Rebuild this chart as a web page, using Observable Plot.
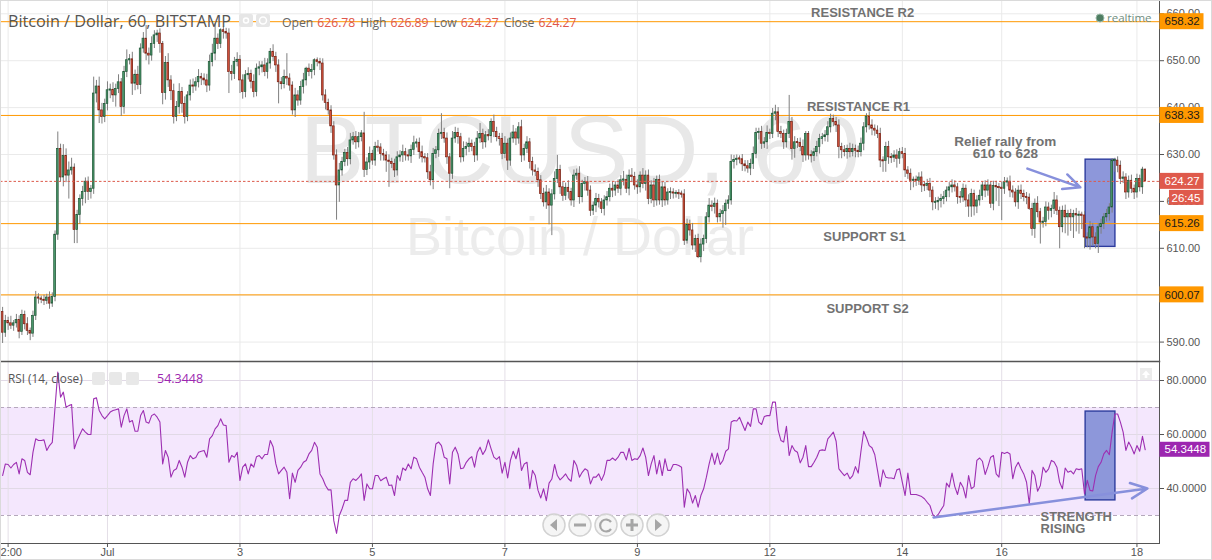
<!DOCTYPE html>
<html><head><meta charset="utf-8">
<script src="https://cdn.jsdelivr.net/npm/d3@7"></script>
<script src="https://cdn.jsdelivr.net/npm/@observablehq/plot@0.6"></script>
<style>
html,body{margin:0;padding:0;background:#fff;}
#wrap{position:relative;width:1212px;height:560px;overflow:hidden;background:#fff;}
#top,#bot{position:absolute;left:0;}
#top{top:0;}
#bot{top:361px;}
</style></head>
<body><div id="wrap"><div id="top"></div><div id="bot"></div></div>
<script>
// ---------------- DATA ----------------
const titleText = "Bitcoin / Dollar, 60, BITSTAMP";
const ohlcLabels = ["Open", "High", "Low", "Close"];
const ohlcValues = [626.78, 626.89, 624.27, 624.27];
const rsiTitle = "RSI (14, close)";
const watermark = "BTCUSD, 60";
const watermarkSub = "Bitcoin / Dollar";
const countdown = "26:45";

const tickIdx = [2, 38, 86, 134, 182, 230, 278, 326, 362, 411];
const tickLabels = ["2:00", "Jul", "3", "5", "7", "9", "12", "14", "16", "18"];
const priceGrid = [590, 600, 610, 620, 630, 640, 650, 660];
const priceLabels = [590, 610, 620, 630, 640, 650, 660];
const rsiTicks = [40, 60, 80];
const rsiBand = [30, 70];

const levelNames = ["RESISTANCE R2", "RESISTANCE R1", "SUPPORT S1", "SUPPORT S2"];
const levelValues = [658.32, 638.33, 615.26, 600.07];
const levelLabelX = [311.6, 310.1, 312.3, 313.4];

const lastPrice = 624.27;
const lastRsi = 54.3448;

const rally = {x1: 392.4, x2: 403.2, p1: 610.3, p2: 628.9, r1: 35.6, r2: 68.5};
const rallyArrow = {x1: 371.3, p1: 627.0, x2: 390.5, p2: 623.0};
const rsiArrow = {x1: 337.3, v1: 29.3, x2: 414.8, v2: 40.0};
const reliefNote = {x: 363.3, p: 631.4, text: "Relief rally from\n610 to 628"};
const strengthNote = {x: 376.05, v: 27.15, text: "STRENGTH\nRISING"};

const firstOpen = 596.4;
const close = [
592,594.5,594,593.5,594,594.7,592.2,595.8,593.8,592.4,
591.8,595.6,599.5,599.3,599,598.8,599.5,598.2,599.6,612.9,
631.2,625.1,629.7,625.5,626.6,627.2,613.9,617.1,620.5,622,
624.2,622,622.7,643,644.5,639.4,638,640.8,643.7,643.8,
642.6,644,645.4,640.1,647.6,650.1,650.3,645.1,647,644.8,
652.6,654.7,651.5,651.1,653.6,655.4,655.8,653.6,643.1,649.5,
645.8,643.5,638,640.1,643.3,640.8,638,642.6,644.7,644.5,
645.4,646.5,646.2,645.8,644.7,649.7,651.5,654.7,653.6,656.5,
656.1,655.8,647.6,647.2,649.7,650.2,645.8,643.3,646.9,647.2,
645.5,643.3,648.3,648.6,649,647.6,649.4,651.9,650.8,649,
645.4,645,646.5,646.2,644.7,639.4,642.6,641.5,644.4,645.8,
648.3,647.6,648,650.1,649.7,649.4,642.6,641,639.4,636,
629.8,623.4,626.6,628.4,630.3,629,633,633.7,632.6,633.7,
634.5,626.7,628.3,630.1,628.7,631.6,631.5,630.1,629.8,628.7,
628.4,628,626.6,629.4,629.8,630.5,629.8,629.6,631,632.4,
632.5,630.5,629.4,629.2,626.2,624.5,630.1,630.9,634.4,634.6,
633.4,629.4,625.9,633.4,634.6,633.7,629.4,631.2,631.6,632.3,
631.6,629.8,633.4,634.4,632.6,634.1,633.9,636.9,634.8,633.7,
633.3,630.1,632.3,628.7,633.4,634.7,633.4,635.8,629.8,631.2,
632.6,628.4,626.6,626.3,624.5,621.6,619.8,621.9,619.1,621.5,
624.8,626.7,623,621.2,622.9,622,620.2,625.5,625.9,620.9,
623.7,624.1,622.3,618,619.1,620.5,619.8,618.4,620.2,620.9,
622.7,622.3,623.4,622.7,624.5,624.6,622.7,625.5,625.2,623.4,
623,625.5,623.7,625.5,620.5,623.4,620.2,624.6,620.2,623,
620.2,621.9,621.9,621.7,621.7,621.6,621.5,611.6,615,613.8,
610.6,612,608.1,610.8,612,616.6,619.1,618.8,619.5,616.6,
617.3,617.9,619.5,620.2,628.4,628.8,629.1,629,627.9,627.5,
627,628,630.1,634.6,634.8,632.3,632.6,634.6,634.4,638.7,
639,634.8,634.4,632.6,634.4,636.9,631.2,632.6,632.5,631.6,
629.8,634.4,629.8,629.7,630.5,631.6,633.3,633.7,634.1,635.8,
637.6,636.9,636.2,631.6,630.9,630.5,631.2,630.5,631.2,630.8,
630.5,632.3,635.8,638.1,636.2,635.5,635.1,634.4,628.7,628.6,
631.6,629.4,629.3,629.8,629.1,630.5,630.1,626.6,625.9,624.4,
624.6,624.4,625.1,623.4,623.3,623.7,622.3,619.8,619.8,620.1,
620.5,620.9,622.3,623,623.4,623,620.9,620.8,622.7,620.2,
618.9,621.6,618.9,620.2,621.2,623.4,622.3,623.4,619.5,623.3,
623,622.9,622.7,624.1,624.2,622.3,621.9,619.8,622.3,621.6,
620.9,620.8,618.4,614.1,619.5,617.7,615.5,615.6,618.7,618,
618.4,620.2,618,614.5,618,616.6,617.3,616.6,617.3,617,
617.1,617,612.3,612.1,614.5,612.3,610.9,614.5,615.2,616.6,
617.3,618.7,628.7,628.7,627.6,624.8,625.1,621.9,624.4,622.7,
621.9,624.8,623,626.78,624.27
];
const wickUp = [
1.0,1.2,0.8,1.5,0.6,1.2,0.9,1.0,0.8,1.4,0.6,1.0,1.3,0.8,0.5,1.0,0.7,1.2,0.9,0.8,
3.6,1.0,2.4,1.5,1.8,2.0,0.8,1.0,0.9,1.2,0.8,1.0,0.7,3.5,1.3,2.0,1.5,1.0,1.8,1.2,
1.5,1.0,1.6,0.8,1.2,2.2,1.0,1.5,1.0,1.8,1.0,1.3,2.8,1.2,1.5,1.0,0.7,1.0,0.5,1.4,
2.0,1.0,1.5,1.2,1.8,1.0,1.5,0.8,1.2,1.4,1.0,1.6,0.8,1.0,1.3,1.5,2.0,3.2,1.0,0.3,
0.7,0.8,1.0,1.4,1.0,1.5,0.9,1.2,1.0,1.3,0.8,1.5,1.0,1.2,0.8,1.5,1.0,0.7,1.5,1.0,
1.2,1.0,1.5,5.0,1.0,0.8,1.5,1.0,1.2,1.5,0.3,1.0,1.2,0.3,0.5,0.8,1.0,1.2,0.8,1.0,
1.0,1.2,1.5,1.0,0.8,1.2,1.5,1.0,1.2,1.0,0.6,4.5,1.0,1.5,0.8,1.0,1.4,0.8,1.0,0.8,
1.2,0.8,1.0,1.2,1.0,1.5,0.8,1.2,1.0,1.5,0.8,1.0,1.3,0.8,1.0,1.5,1.2,0.8,1.0,4.1,
1.0,1.2,0.8,1.5,1.2,1.0,0.8,1.5,1.0,1.2,0.8,1.0,1.5,2.2,1.0,0.8,1.2,0.7,1.5,1.0,
0.8,1.2,1.5,1.0,1.2,1.5,0.8,1.0,1.5,1.0,1.2,0.8,1.0,1.2,0.8,1.0,1.2,1.5,0.8,1.0,
1.5,3.1,1.0,1.2,1.0,1.5,0.8,1.2,1.0,1.5,0.8,1.0,1.2,1.0,0.8,1.2,1.0,0.8,1.0,1.2,
1.0,1.5,0.8,1.2,1.0,1.8,1.0,1.2,1.5,1.0,1.2,0.8,1.5,1.0,1.2,1.0,1.5,0.8,1.0,1.2,
1.0,0.8,1.0,0.8,0.6,0.8,0.6,1.0,1.2,1.0,1.5,0.8,1.0,1.2,0.8,1.0,1.5,1.0,1.2,0.8,
1.0,1.2,0.8,1.0,1.5,1.0,0.8,0.6,1.0,0.8,1.2,1.0,1.5,1.0,0.8,1.2,1.0,1.5,0.8,1.1,
1.5,1.0,1.2,0.8,1.0,5.7,1.0,1.2,0.8,1.0,1.5,0.5,0.5,1.0,0.8,1.2,1.0,0.8,1.0,1.2,
1.0,0.8,1.0,1.2,0.8,1.0,0.8,1.2,1.0,0.8,1.0,1.2,1.0,0.6,1.0,1.2,0.8,1.0,1.2,0.8,
1.0,1.2,0.8,1.0,1.2,0.8,1.0,1.2,0.8,1.0,0.6,0.8,1.0,1.2,0.8,1.0,1.2,0.8,1.0,0.8,
1.0,1.2,0.8,1.0,1.2,1.0,0.8,1.2,1.0,0.8,1.2,1.0,0.8,1.0,1.2,0.8,1.0,1.2,0.8,1.0,
1.0,0.8,1.2,1.0,0.8,1.2,1.0,0.8,1.0,1.2,0.8,1.0,0.8,1.2,1.0,1.5,0.8,1.0,1.2,1.0,
0.8,1.7,1.0,0.8,1.0,1.2,0.8,1.0,0.8,1.2,0.8,0.6,0.8,1.0,1.2,0.8,1.0,0.8,1.0,0.8,
1.0,0.8,0.4,0.5,0.8,1.0,1.2,0.8,1.0,1.2,0.8,1.0,0.8,0.5,0.11
];
const wickDn = [
2.3,1.0,1.5,0.8,1.2,1.0,1.5,0.8,1.2,1.0,1.5,0.8,1.0,1.2,0.8,1.0,0.8,1.2,0.8,1.0,
1.2,1.0,2.0,1.5,5.0,1.0,2.9,2.9,2.0,1.5,2.5,1.8,1.5,1.2,2.0,2.8,1.5,1.2,1.5,1.8,
1.5,2.5,1.0,2.0,1.5,1.2,1.0,2.5,1.5,1.0,2.0,1.0,1.5,2.0,1.2,1.0,1.5,2.0,2.5,1.5,
1.5,2.0,1.5,1.0,1.5,2.0,1.5,1.0,1.2,1.5,1.0,1.2,1.5,1.0,1.5,1.2,1.0,1.5,1.2,1.0,
1.5,1.2,4.6,1.5,1.2,1.0,2.8,1.5,1.2,1.0,1.5,1.2,1.0,1.5,1.2,1.0,1.5,1.2,1.0,1.5,
4.6,1.2,1.0,1.5,1.2,1.0,1.5,1.2,1.0,1.5,1.2,1.0,1.5,1.2,1.0,1.5,1.2,1.5,1.0,1.5,
1.0,7.4,3.6,1.2,1.0,1.5,1.2,1.0,1.5,1.2,1.0,1.6,1.2,1.5,1.0,1.2,1.0,1.5,1.2,2.5,
5.4,1.0,1.5,1.2,1.0,1.5,1.2,1.0,1.5,1.2,1.0,1.5,1.2,1.0,1.5,1.2,2.0,1.0,1.5,1.2,
1.0,1.5,3.2,1.2,1.0,1.5,1.2,1.0,1.5,1.2,1.0,1.5,1.2,1.0,1.5,1.2,1.0,1.5,1.2,1.0,
1.5,1.2,1.0,2.1,1.2,1.0,1.5,1.2,1.5,1.2,1.0,1.5,1.2,1.0,1.5,1.2,1.0,1.5,4.1,6.4,
1.2,1.0,1.5,1.2,1.0,1.5,1.2,1.5,1.0,1.5,1.2,1.5,1.2,1.2,1.0,1.5,1.2,1.0,1.5,1.2,
1.0,1.5,1.2,1.0,1.5,1.2,1.0,1.5,1.2,1.0,1.5,1.2,1.0,1.5,1.2,1.0,1.5,1.2,1.0,1.5,
1.2,1.0,1.5,1.2,1.0,1.2,0.8,1.0,0.7,1.2,1.0,1.5,0.3,1.2,1.5,1.0,1.2,1.0,1.5,1.2,
1.0,3.0,3.0,1.2,1.0,1.5,1.2,1.0,1.5,1.2,1.0,1.5,1.2,1.0,1.5,1.2,1.0,1.5,1.2,1.0,
1.5,1.2,1.0,1.5,1.2,1.0,2.4,2.0,1.2,1.0,1.5,1.2,1.0,1.5,1.2,1.0,1.5,1.2,1.0,1.5,
1.2,1.0,1.5,2.5,1.8,1.0,1.5,1.2,1.0,1.5,1.2,1.0,1.5,1.2,1.0,1.5,1.2,1.0,1.5,2.4,
2.4,1.5,1.2,1.0,2.0,1.2,1.0,1.5,1.2,2.1,1.5,1.2,1.0,1.5,1.2,1.0,1.5,1.8,1.5,1.8,
1.5,1.2,1.0,1.5,1.2,1.0,1.5,1.2,1.0,1.5,2.3,2.3,2.0,1.5,1.2,1.0,1.5,1.2,1.0,1.5,
3.0,4.0,6.8,1.2,1.0,1.5,1.2,1.0,1.5,1.2,1.0,1.5,0.3,1.5,2.0,1.2,4.6,1.2,1.0,2.0,
1.5,1.2,1.0,4.6,1.2,3.5,4.0,3.0,4.5,3.5,4.0,3.0,2.4,2.0,2.5,1.8,1.0,2.0,1.5,1.2,
1.0,1.5,1.2,2.5,1.5,1.2,1.0,1.5,1.2,1.0,1.5,1.2,1.0,1.5,0
];
const rsi = [
44.8,49.1,48.9,47.6,48.9,49.7,45.4,51,50.4,46,
45.1,53.4,58.4,57.8,57.8,58,54.1,55.9,57.1,70.1,
83.1,73.8,75.7,70.1,70.7,71.1,54.7,57.8,60,62.1,
60.9,60,60,73.2,73.6,68.9,67,65.8,67,68.3,
68.9,69.2,69.5,62.7,67,69.5,64.6,65.2,61.2,61.2,
67,68.9,64.6,64.2,67,67.6,66.4,64.6,49.1,54.1,
51.6,44.2,46.7,47.3,50.4,47.9,44.2,49.7,52.2,51,
51.5,53.4,53.8,54.1,51.6,58.4,59.6,62.1,63.3,65.8,
63.5,63.3,49.7,52.2,51.6,53.4,43,47.9,49.1,45.4,
49.1,47.9,51.8,52.2,51,52.6,52.6,57.8,55.5,49.1,
45.4,46.7,47.9,46,36.2,45.7,42.3,46.7,47.9,49.7,
50.4,52.8,54.1,57.1,55.3,45.4,43.6,41.1,39.5,39.5,
28.1,23.4,30,32.5,35.6,35.6,42.3,43.6,43,44,
45.4,35.6,41.7,39.9,39.9,44.8,44.8,42.9,43.6,44.2,
41.1,41.3,37.4,44.8,43,47.6,46.7,49.1,47.3,51.6,
51,47.9,46,44.2,39.9,37.4,49.1,56.5,57.2,55.9,
51.6,51,41.7,53.4,55.3,52.8,47.3,47.6,49.7,51,
51.8,47.9,53.4,55.3,52.6,54.3,58,54.7,51.6,50.8,
51.8,45.7,49.7,43.9,50.4,53.8,51,55,46.7,49.1,
49.7,39.9,46.7,44.8,39.3,36.5,39.9,35.5,42,43.5,
48.9,44.8,43.2,44.2,45.4,43.6,42.7,50.4,48.5,44.2,
46,47.3,46.7,41.7,44.2,44.2,45.4,43,45.4,50.4,
50.4,51.3,50.4,51.6,53.4,53.4,50.6,54.9,50.4,51,
50.8,52.2,55,51.6,44.8,49.1,52.2,45.4,50.4,44.8,
51,46.7,46.7,48.9,48.9,48.5,47.9,33.1,39.9,38.3,
34.6,37.4,33.1,37.4,39.9,44.2,49.1,53.1,48.9,53.1,
48.9,50.4,53.8,54.7,64.6,65.2,65,66.4,63.9,61.5,
64.6,63,69.5,69.5,64.6,63.7,66.7,67,67,72,
72,61.5,57.8,57.2,63,52.2,55.9,54.1,53.4,49.5,
51.6,55.9,48.1,48.1,49.7,51.6,54.1,54.3,54.1,58.4,
59.6,60.9,57.5,47.3,46,44.8,45.7,43.6,44.8,48.1,
45.7,53.8,61.2,58.8,55.9,55.1,52.6,46.7,40.7,46.9,
44.2,43.9,43.9,43.6,46.9,47.3,42.3,37.4,45.7,37.8,
37.8,37.8,37.4,37,36.2,34.9,33.7,30.4,29.4,30.4,
32.1,33.7,42,40.5,45.7,40.7,37.8,42.3,40.5,36.5,
44.8,39.9,40.7,50.4,51.3,50.1,45.2,48.1,51.6,52.2,
45.4,44.2,53.4,53,53.4,52.8,43.6,47.9,49.7,47.3,
45.4,42.3,34.3,46.7,44.8,39,41.1,47.9,46,47.3,
50.4,49.8,47.9,42.3,39.9,47.6,46,46.5,45.4,47.3,
47,47.3,38,43,39.3,39.1,44.8,48.1,49.7,52.8,
54.1,52.5,60.9,67.6,67.6,64.6,60.9,54.1,57.2,55.3,
52.8,55.9,53.8,59.3,54.3448
];

// ---------------- DERIVED TABLES ----------------
const candles = close.map((c, i) => {
  const o = i === 0 ? firstOpen : close[i - 1];
  let hi = Math.max(o, c), lo = Math.min(o, c);
  const high = hi + (wickUp[i] ?? 1), low = lo - (wickDn[i] ?? 1);
  if (hi - lo < 0.25) { const m = (hi + lo) / 2; hi = m + 0.13; lo = m - 0.13; }
  return {i, o, c, hi, lo, high, low, up: c >= o};
});
const levels = levelNames.map((name, k) => ({name, v: levelValues[k], x: levelLabelX[k]}));
const resist = levels.filter(d => d.name.startsWith("RES"));
const supp = levels.filter(d => d.name.startsWith("SUP"));
const rsiPts = rsi.map((v, i) => ({i, v}));
const firstTick = [{i: tickIdx[0], t: tickLabels[0]}];

// ---------------- LAYOUT ----------------
const W = 1212, MR = 53;
const xDom = [-0.761, 419.17];
const fontUI = "'Liberation Sans', Arial, sans-serif";
const annFill = "#727272";
const boxFill = "#8d97da", boxStroke = "#2d3c9e", arrowCol = "#8790dc";

const topChart = Plot.plot({
  width: W, height: 361,
  marginLeft: 0, marginRight: MR, marginTop: 0, marginBottom: 0,
  x: {domain: xDom, axis: null},
  y: {domain: [585.86, 662.84]},
  style: {fontFamily: fontUI, fontSize: "11px", color: "#555", background: "transparent", overflow: "visible"},
  marks: [
    Plot.ruleY(priceGrid, {stroke: "#eaeaea"}),
    Plot.ruleX(tickIdx, {stroke: "#eaeaea"}),
    Plot.text([watermark], {frameAnchor: "middle", fontSize: 97, fill: "#e8e8e8", dy: -29.5}),
    Plot.text([watermarkSub], {frameAnchor: "middle", fontSize: 54, fill: "#ececec", dy: 57.2}),
    Plot.rect([rally], {x1: "x1", x2: "x2", y1: "p1", y2: "p2", fill: boxFill, stroke: boxStroke, strokeWidth: 1.4}),
    Plot.ruleY(levelValues, {stroke: "#ff9800", strokeWidth: 1}),
    Plot.ruleX(candles, {x: "i", y1: "low", y2: "high", stroke: "#7f7f7f", strokeWidth: 1}),
    Plot.rect(candles.filter(d => d.up), {x1: d => d.i - 0.3, x2: d => d.i + 0.3, y1: "lo", y2: "hi", fill: "#4c9c6e", stroke: "#1d5434", strokeWidth: 0.7}),
    Plot.rect(candles.filter(d => !d.up), {x1: d => d.i - 0.3, x2: d => d.i + 0.3, y1: "lo", y2: "hi", fill: "#d8563f", stroke: "#792114", strokeWidth: 0.7}),
    Plot.ruleY([lastPrice], {stroke: "#dc5a4b", strokeDasharray: "2.5,2"}),
    Plot.arrow([rallyArrow], {x1: "x1", y1: "p1", x2: "x2", y2: "p2", stroke: arrowCol, strokeWidth: 2.5, headLength: 11, headAngle: 50}),
    Plot.text(resist, {x: "x", y: "v", text: "name", dy: -8.7, fontSize: 13, fontWeight: "bold", fill: annFill}),
    Plot.text(supp, {x: "x", y: "v", text: "name", dy: 13.5, fontSize: 13, fontWeight: "bold", fill: annFill}),
    Plot.text([reliefNote], {x: "x", y: "p", text: "text", fontSize: 13.5, fontWeight: "bold", fill: annFill, lineHeight: 0.89}),
    Plot.axisY({anchor: "right", ticks: priceLabels, tickFormat: d => d.toFixed(2), tickSize: 4, tickPadding: 3, fontSize: 11}),
    Plot.frame({anchor: "right", stroke: "#555"})
  ]
});
document.getElementById("top").appendChild(topChart);

const botChart = Plot.plot({
  width: W, height: 199,
  marginLeft: 0, marginRight: MR, marginTop: 0, marginBottom: 17,
  x: {domain: xDom},
  y: {domain: [19.63, 87.04]},
  style: {fontFamily: fontUI, fontSize: "11px", color: "#555", background: "transparent", overflow: "visible"},
  marks: [
    Plot.rect([{a: xDom[0], b: xDom[1], lo: rsiBand[0], hi: rsiBand[1]}], {x1: "a", x2: "b", y1: "lo", y2: "hi", fill: "#f4e7fd"}),
    Plot.ruleY(rsiTicks, {stroke: "#e1d9e6"}),
    Plot.ruleX(tickIdx, {stroke: "#e4dfe7"}),
    Plot.ruleY(rsiBand, {stroke: "#b5a8bc", strokeDasharray: "4,3"}),
    Plot.rect([rally], {x1: "x1", x2: "x2", y1: "r1", y2: "r2", fill: boxFill, stroke: boxStroke, strokeWidth: 1.4}),
    Plot.line(rsiPts, {x: "i", y: "v", stroke: "#9d2fb2", strokeWidth: 1.1}),
    Plot.arrow([rsiArrow], {x1: "x1", y1: "v1", x2: "x2", y2: "v2", stroke: arrowCol, strokeWidth: 2.5, headLength: 11, headAngle: 50}),
    Plot.text([strengthNote], {x: "x", y: "v", text: "text", textAnchor: "start", fontSize: 13, fontWeight: "bold", fill: annFill, lineHeight: 0.9}),
    Plot.axisY({anchor: "right", ticks: rsiTicks, tickFormat: d => d.toFixed(4), tickSize: 4, tickPadding: 3, fontSize: 11}),
    Plot.axisX({anchor: "bottom", ticks: tickIdx, tickFormat: (d, k) => d === tickIdx[0] ? "" : tickLabels[tickIdx.indexOf(d)], tickSize: 4, tickPadding: 1, fontSize: 11}),
    Plot.text(firstTick, {x: "i", text: "t", frameAnchor: "bottom", textAnchor: "start", lineAnchor: "top", dx: -7.6, dy: 5, fontSize: 11, fill: "#555"}),
    Plot.frame({anchor: "right", stroke: "#555"}),
    Plot.frame({anchor: "bottom", stroke: "#555"}),
    Plot.frame({anchor: "top", stroke: "#555", strokeWidth: 1.5})
  ]
});
document.getElementById("bot").appendChild(botChart);

// ---------------- PRICE / VALUE TAGS (positioned with Plot's scales) ----------------
function tag(sel, y, x0, w, h, fill, txt, color, tx) {
  sel.append("rect").attr("x", x0).attr("y", y - h / 2).attr("width", w).attr("height", h).attr("fill", fill);
  sel.append("text").attr("x", x0 + tx).attr("y", y).attr("dy", "0.36em").attr("text-anchor", "start").attr("fill", color).text(txt);
}
const yT = topChart.scale("y");
const gT = d3.select(topChart).append("g").attr("font-family", fontUI).attr("font-size", 11.5).attr("text-anchor", "start");
levelValues.forEach(v => tag(gT, yT.apply(v), W - MR + 0.5, 44, 16, "#ff9800", v.toFixed(2), "#1a1a1a", 5));
tag(gT, yT.apply(lastPrice), W - MR + 0.5, 44, 16, "#df5a4c", lastPrice.toFixed(2), "#fff", 5);
tag(gT, yT.apply(lastPrice) + 16.5, W - MR + 10, 34.5, 15, "#df5a4c", countdown, "#fff", 2.5);
const yB = botChart.scale("y");
const gB = d3.select(botChart).append("g").attr("font-family", fontUI).attr("font-size", 11.5).attr("text-anchor", "start");
tag(gB, yB.apply(lastRsi), W - MR + 0.5, 50, 15, "#9c27b0", lastRsi.toFixed(4), "#fff", 5);

// ---------------- LEGENDS / UI OVERLAY ----------------
const ov = d3.select("#wrap").append("svg").attr("width", W).attr("height", 560)
  .style("position", "absolute").style("left", 0).style("top", 0).style("pointer-events", "none");
const legendFont = "'Open Sans', sans-serif";
ov.append("text").attr("x", 8).attr("y", 26.5).attr("font-family", legendFont).attr("font-size", 16.2).attr("fill", "#555").text(titleText);
[239, 256].forEach((x, k) => {
  ov.append("rect").attr("x", x).attr("y", 14).attr("width", 14).attr("height", 13).attr("rx", 2).attr("fill", "#e6e6e6");
  ov.append("circle").attr("cx", x + 7).attr("cy", 20.5).attr("r", k ? 3.5 : 2.5).attr("fill", "none").attr("stroke", "#fff").attr("stroke-width", 1.5);
});
const oh = ov.append("text").attr("x", 282).attr("y", 26.5).attr("font-family", legendFont).attr("font-size", 12.2);
ohlcLabels.forEach((lab, k) => {
  oh.append("tspan").attr("dx", k ? 5 : 0).attr("fill", "#666").text(lab);
  oh.append("tspan").attr("dx", 4).attr("fill", "#e0574a").text(ohlcValues[k].toFixed(2));
});
ov.append("circle").attr("cx", 1100).attr("cy", 18).attr("r", 4).attr("fill", "#4e7d62").attr("stroke", "#9ab8a6").attr("stroke-width", 1);
ov.append("text").attr("x", 1107).attr("y", 21.5).attr("font-family", legendFont).attr("font-size", 11.5).attr("fill", "#6f8d7e").text("realtime");

ov.append("text").attr("x", 8).attr("y", 383).attr("font-family", legendFont).attr("font-size", 11.8).attr("fill", "#555").text(rsiTitle);
[92, 109, 126].forEach(x => {
  ov.append("rect").attr("x", x).attr("y", 372).attr("width", 13).attr("height", 13).attr("rx", 2).attr("fill", "#e8e8e8");
});
ov.append("text").attr("x", 157).attr("y", 383).attr("font-family", legendFont).attr("font-size", 12.5).attr("fill", "#9c27b0").text(lastRsi.toFixed(4));

// navigation buttons
const nav = ov.append("g");
[554, 580, 606, 632, 658].forEach((cx, k) => {
  nav.append("circle").attr("cx", cx).attr("cy", 525).attr("r", 11).attr("fill", "#f3f3f3").attr("fill-opacity", 0.85).attr("stroke", "#d2d2d2").attr("stroke-width", 1.5);
  const g = nav.append("g").attr("fill", "#a6a6a6").attr("stroke", "#a6a6a6");
  if (k === 0) g.append("path").attr("d", `M${cx+3},${519} L${cx-4},${525} L${cx+3},${531} Z`).attr("stroke", "none");
  if (k === 4) g.append("path").attr("d", `M${cx-3},${519} L${cx+4},${525} L${cx-3},${531} Z`).attr("stroke", "none");
  if (k === 1 || k === 3) g.append("rect").attr("x", cx - 6).attr("y", 523.5).attr("width", 12).attr("height", 3).attr("stroke", "none");
  if (k === 3) g.append("rect").attr("x", cx - 1.5).attr("y", 519).attr("width", 3).attr("height", 12).attr("stroke", "none");
  if (k === 2) g.append("path").attr("d", `M${cx+5},${522} A6,6 0 1 0 ${cx+5},${529}`).attr("fill", "none").attr("stroke-width", 2.2);
});
ov.append("rect").attr("x", 1140).attr("y", 368).attr("width", 12).attr("height", 12).attr("fill", "#ececec");
ov.append("path").attr("d", "M1146,370.5 L1150,375 L1147.3,375 L1147.3,378 L1144.7,378 L1144.7,375 L1142,375 Z").attr("fill", "#fff");
ov.append("rect").attr("x", 0.5).attr("y", 0.5).attr("width", W - 1).attr("height", 559).attr("fill", "none").attr("stroke", "#dadada");
</script>
</body></html>
